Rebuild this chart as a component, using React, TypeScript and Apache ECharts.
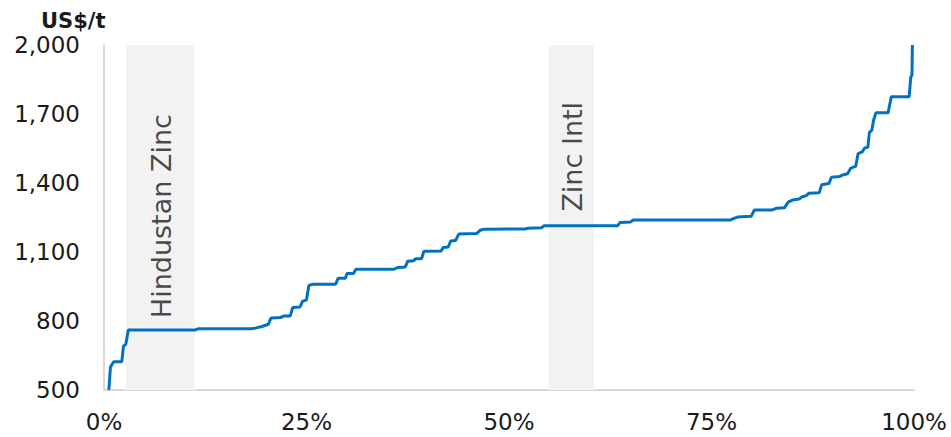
import React, { useEffect, useRef } from "react";
import * as echarts from "echarts";

// Cumulative share of capacity (%) and cash cost (US$/t) at each corner of the curve
const capacityPct = [
  0.6, 0.8, 1.2, 2.2, 2.4, 2.7, 3.0, 11.3, 11.6, 18.2, 18.8, 19.5, 20.3, 20.6, 21.8, 22.2, 23.0, 23.3,
  24.2, 24.5, 25.0, 25.3, 25.8, 28.6, 28.9, 29.8, 30.0, 30.8, 31.1, 35.8, 36.3, 37.2, 37.5, 38.2, 38.5,
  39.2, 39.5, 41.6, 41.9, 42.5, 42.8, 43.4, 43.8, 46.0, 46.5, 47.0, 52.0, 52.3, 54.0, 54.3, 63.4, 63.7,
  65.0, 65.3, 77.3, 77.7, 78.2, 79.9, 80.3, 82.5, 83.0, 84.0, 84.5, 85.0, 85.8, 86.2, 86.7, 87.0, 88.3,
  88.6, 89.5, 89.8, 90.8, 91.2, 91.8, 92.2, 92.8, 93.1, 93.6, 93.9, 94.3, 94.5, 94.8, 95.0, 95.3, 96.8,
  97.2, 99.4, 99.6, 99.75, 99.8,
];
const costUsdT = [
  500, 600, 623, 623, 690, 700, 761, 761, 766, 766, 770, 776, 786, 813, 815, 822, 822, 859,
  861, 885, 892, 955, 960, 960, 986, 986, 1007, 1007, 1025, 1025, 1033, 1035, 1060, 1062, 1071,
  1071, 1103, 1104, 1120, 1122, 1148, 1150, 1178, 1180, 1196, 1199, 1200, 1203, 1205, 1214, 1214, 1228,
  1230, 1239, 1239, 1245, 1252, 1255, 1283, 1283, 1290, 1292, 1318, 1326, 1330, 1340, 1345, 1355, 1358,
  1392, 1398, 1425, 1428, 1435, 1440, 1465, 1472, 1528, 1535, 1552, 1555, 1620, 1630, 1672, 1705, 1705,
  1775, 1775, 1860, 1870, 2000,
];

// Highlighted producers: name and capacity band (%)
const producerNames = ["Hindustan Zinc", "Zinc Intl"];
const producerFrom = [2.7, 54.9];
const producerTo = [11.2, 60.5];
// label anchor (x %, y US$/t) for the vertical annotations
const producerLabelX = [7.1, 57.8];
const producerLabelY = [1256, 1514];

const xTicks = [0, 25, 50, 75, 100];
const yTicks = [500, 800, 1100, 1400, 1700, 2000];

const FONT = "'DejaVu Sans', Verdana, sans-serif";

export default function App() {
  const ref = useRef<HTMLDivElement>(null);
  useEffect(() => {
    if (!ref.current) return;
    const chart = echarts.init(ref.current, undefined, { renderer: "svg" });
    const lineData = capacityPct.map((x, i) => [x, costUsdT[i]]);
    chart.setOption({
      animation: false,
      textStyle: { fontFamily: FONT },
      grid: { left: 104, right: 37, top: 45, bottom: 47, containLabel: false },
      title: {
        text: "US$/t",
        left: 36,
        top: 5,
        textStyle: { fontFamily: FONT, fontSize: 21, fontWeight: "bold", color: "#1a1a1a" },
      },
      xAxis: {
        type: "value",
        min: xTicks[0],
        max: xTicks[xTicks.length - 1],
        interval: 25,
        axisLine: { show: true, lineStyle: { color: "#d9d9d9", width: 2 } },
        axisTick: { show: false },
        splitLine: { show: false },
        axisLabel: {
          formatter: (v: number) => `${v}%`,
          fontSize: 23,
          color: "#1a1a1a",
          fontFamily: FONT,
          margin: 20,
        },
      },
      yAxis: {
        type: "value",
        min: yTicks[0],
        max: yTicks[yTicks.length - 1],
        interval: 300,
        axisLine: { show: true, lineStyle: { color: "#d9d9d9", width: 2 } },
        axisTick: { show: false },
        splitLine: { show: false },
        axisLabel: {
          formatter: (v: number) => v.toLocaleString("en-US"),
          fontSize: 23,
          color: "#1a1a1a",
          fontFamily: FONT,
          margin: 24,
        },
      },
      series: [
        {
          type: "line",
          data: lineData,
          showSymbol: false,
          symbol: "none",
          lineStyle: { color: "#0070c0", width: 3 },
          z: 3,
          markArea: {
            silent: true,
            itemStyle: { color: "#f2f2f2" },
            label: { show: false },
            data: producerNames.map((n, i) => [
              { name: n, xAxis: producerFrom[i], yAxis: yTicks[yTicks.length - 1] },
              { xAxis: producerTo[i], yAxis: yTicks[0] },
            ]),
          },
        },
        {
          type: "scatter",
          symbolSize: 0,
          z: 4,
          silent: true,
          data: producerNames.map((n, i) => ({ name: n, value: [producerLabelX[i], producerLabelY[i]] })),
          label: {
            show: true,
            position: "inside",
            rotate: 90,
            formatter: (p: any) => p.name,
            fontSize: 27,
            color: "#1a1a1a",
            fontFamily: FONT,
            align: "center",
            verticalAlign: "middle",
          },
        },
      ],
    });
    return () => chart.dispose();
  }, []);
  return <div ref={ref} style={{ width: 951, height: 437, position: "absolute", left: 0, top: 0 }} />;
}
